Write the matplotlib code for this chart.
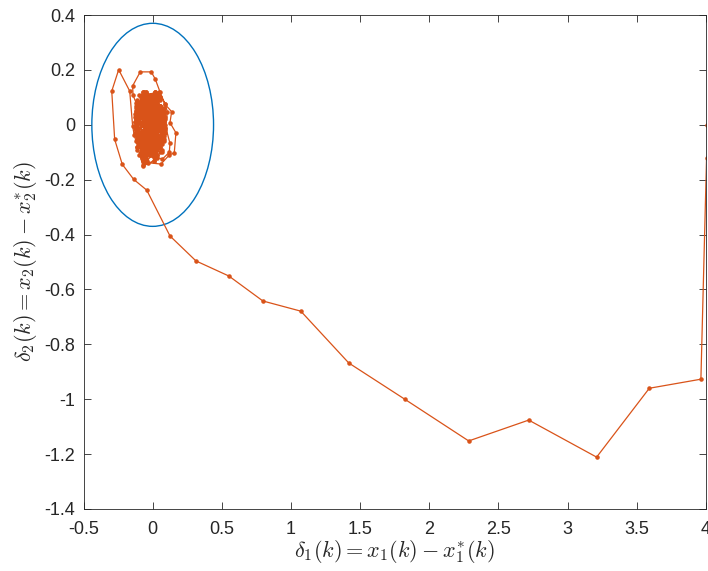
import matplotlib
matplotlib.use('Agg')
import matplotlib.pyplot as plt
import numpy as np
from matplotlib.patches import Ellipse

plt.rcParams['font.family'] = 'Liberation Sans'
plt.rcParams['mathtext.fontset'] = 'cm'
plt.rcParams['axes.unicode_minus'] = False

# trajectory coming in from the right (start is clipped at x=4)
x_far = [4.01, 4.005, 3.964, 3.591, 3.21, 2.719, 2.285, 1.823, 1.418, 1.071,
         0.797, 0.551, 0.313, 0.125, -0.043, -0.137, -0.22, -0.275, -0.296, -0.246,
         -0.166, -0.145, -0.133, -0.072, -0.036, 0.06, 0.12, 0.156, 0.168, 0.125,
         0.137, 0.089, 0.053, 0.019, -0.01, -0.09, -0.145, -0.142]
y_far = [0.0, -0.12, -0.927, -0.960, -1.211, -1.076, -1.152, -1.0, -0.868, -0.679,
         -0.642, -0.551, -0.496, -0.405, -0.238, -0.199, -0.144, -0.053, 0.123, 0.201,
         0.123, -0.005, -0.038, -0.147, -0.138, -0.143, -0.11, -0.102, -0.029, 0.008,
         0.048, 0.075, 0.12, 0.166, 0.193, 0.193, 0.142, 0.108]

# loops close to the origin
x_near = [-0.12, 0.02, 0.08, 0.125, 0.12, 0.07, -0.02, -0.11, -0.13, -0.06,
          0.045, 0.09, 0.106, 0.09, 0.01, -0.068, -0.12, -0.08, 0.01, 0.07,
          0.05, -0.04, -0.11, -0.12, -0.05, 0.04, 0.08, 0.02, -0.06, -0.12,
          -0.10, -0.02, 0.05, 0.065, -0.01, -0.08, -0.11, -0.07, 0.00, 0.05]
y_near = [0.08, 0.12, 0.02, -0.068, -0.10, -0.125, -0.11, -0.06, 0.04, 0.11,
          0.118, 0.076, 0.048, -0.03, -0.13, -0.15, -0.01, 0.10, 0.11, 0.04,
          -0.08, -0.13, -0.04, 0.05, 0.12, 0.07, -0.01, -0.10, -0.12, -0.03,
          0.07, 0.11, 0.05, -0.04, -0.11, -0.09, 0.02, 0.10, 0.10, 0.02]

# dense core (steady state)
x_core = [-0.11, 0.065, -0.12, 0.08, -0.08, 0.05, -0.13, 0.09, -0.10, 0.03,
          -0.12, 0.08, -0.07, 0.065, -0.11, 0.02, -0.13, 0.09, -0.08, 0.05,
          -0.12, 0.08, -0.06, 0.03, -0.11, 0.065, -0.10, 0.09, -0.12, 0.01,
          -0.07, 0.065, -0.13, 0.08, -0.08, 0.02, -0.11, 0.09, -0.05, 0.05,
          -0.10, 0.05, -0.12, 0.065, -0.07, 0.08, -0.11, 0.03, -0.13, 0.065,
          -0.08, 0.05, -0.12, 0.08, -0.06, 0.02, -0.10, 0.09, -0.11, 0.03,
          -0.07, 0.065, -0.12, 0.05, -0.08, 0.08, -0.11, 0.02, -0.05, 0.065,
          -0.12, 0.03, -0.10, 0.08, -0.07, 0.05, -0.11, 0.01, -0.06, 0.03,
          -0.08, 0.065, -0.11, 0.05, -0.13, 0.08, -0.07, 0.03, -0.10, 0.09,
          -0.12, 0.02, -0.06, 0.065, -0.11, 0.05, -0.08, 0.08, -0.12, 0.03,
          -0.05, 0.065, -0.10, 0.02, -0.12, 0.08, -0.07, 0.05, -0.11, 0.03,
          -0.06, 0.065, -0.10, 0.01, -0.08, 0.05, -0.07, 0.02, -0.05, 0.00]
y_core = [0.06, -0.05, -0.02, 0.04, -0.10, 0.09, 0.03, -0.02, 0.11, -0.11,
          -0.06, 0.06, 0.12, -0.09, -0.04, 0.12, 0.01, 0.00, -0.12, 0.10,
          0.05, -0.06, -0.13, 0.11, 0.08, -0.10, -0.07, 0.02, 0.00, -0.13,
          0.11, 0.05, -0.03, -0.04, 0.10, 0.11, -0.08, -0.01, -0.12, 0.07,
          -0.07, 0.10, 0.02, -0.07, 0.11, 0.01, -0.09, 0.11, -0.01, -0.05,
          -0.11, 0.07, 0.04, -0.03, 0.12, -0.12, 0.06, -0.01, -0.06, 0.08,
          -0.13, 0.03, 0.07, -0.10, 0.10, -0.05, -0.03, 0.12, -0.13, 0.04,
          0.02, -0.11, 0.08, 0.00, -0.10, 0.06, 0.04, -0.08, 0.11, -0.02,
          0.11, -0.06, -0.08, 0.07, 0.01, -0.03, 0.12, -0.12, -0.03, 0.03,
          0.06, 0.11, -0.13, 0.00, 0.09, -0.08, -0.06, 0.05, -0.02, -0.07,
          0.12, 0.06, -0.11, -0.10, 0.04, -0.02, 0.08, 0.07, -0.05, -0.06,
          -0.12, 0.02, 0.07, 0.10, -0.04, -0.05, 0.05, 0.04, -0.03, 0.00]

x_traj = np.array(x_far + x_near + x_core)
y_traj = np.array(y_far + y_near + y_core)

# bounding ellipse
ell_center = (0.0, 0.0)
ell_rx = 0.44
ell_ry = 0.37

xticks = [-0.5, 0, 0.5, 1, 1.5, 2, 2.5, 3, 3.5, 4]
yticks = [-1.4, -1.2, -1, -0.8, -0.6, -0.4, -0.2, 0, 0.2, 0.4]

fig = plt.figure(figsize=(7.08, 5.71), dpi=100)
ax = fig.add_axes([0.118, 0.1086, 0.879, 0.865])

ax.plot(x_traj, y_traj, '.-', color='#D95319', linewidth=0.9, markersize=4.5)
ax.add_patch(Ellipse(ell_center, 2*ell_rx, 2*ell_ry, fill=False,
                     edgecolor='#0072BD', linewidth=1.0))

ax.set_xlim(-0.5, 4)
ax.set_ylim(-1.4, 0.4)
ax.set_xticks(xticks)
ax.set_xticklabels([f'{v:g}' for v in xticks])
ax.set_yticks(yticks)
ax.set_yticklabels([f'{v:g}' for v in yticks])

for sp in ax.spines.values():
    sp.set_color('#262626')
    sp.set_linewidth(0.6)
ax.tick_params(direction='in', top=True, right=True, length=5, width=0.6,
               colors='#262626', labelsize=13)
ax.tick_params(axis='x', pad=9)
ax.tick_params(axis='y', pad=6)

ax.set_xlabel(r'$\delta_1(k) = x_1(k) - x_1^{*}(k)$', fontsize=16, color='#262626', labelpad=0)
ax.set_ylabel(r'$\delta_2(k) = x_2(k) - x_2^{*}(k)$', fontsize=16, color='#262626', labelpad=4)

fig.savefig('out.png', dpi=100)
